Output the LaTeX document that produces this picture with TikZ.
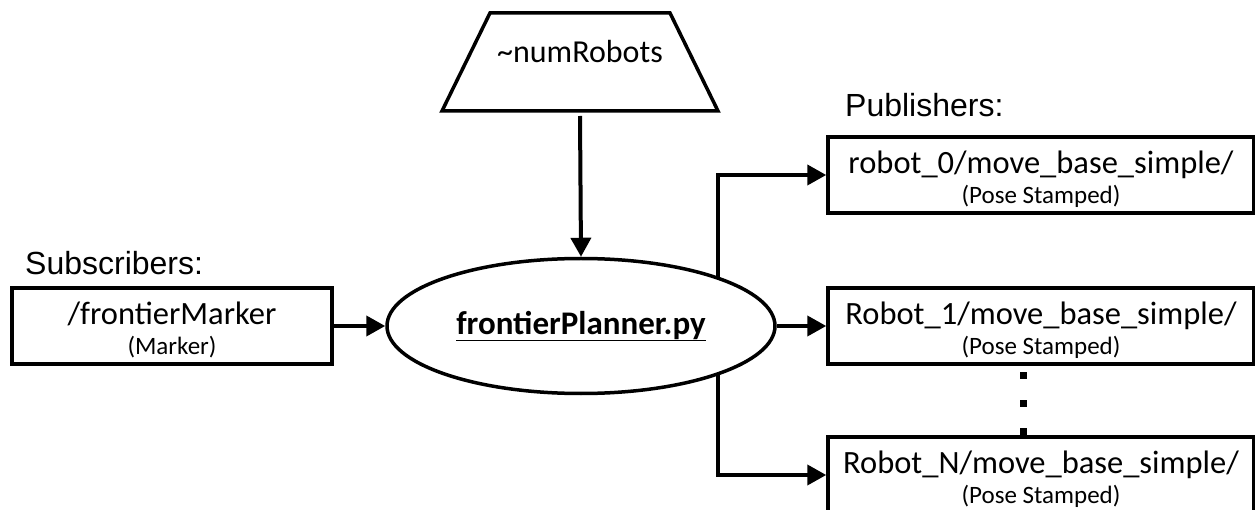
\documentclass[tikz,border=0pt]{standalone}
\usepackage{fontspec}
\setmainfont{Carlito}
\newfontfamily\headfont{Liberation Sans}
\usetikzlibrary{shapes.geometric,arrows.meta}
\tikzset{
  box/.style={draw,line width=3.5pt,fill=white,inner sep=0pt,minimum height=76pt,align=center,font=\fontsize{32.5}{30}\selectfont},
  arr/.style={line width=4pt,-{Triangle[length=19pt,width=20pt]}},
  dotsq/.style={fill=black,inner sep=0pt,minimum size=7pt},
  head/.style={anchor=west,inner sep=0pt,font=\headfont\fontsize{32}{36}\selectfont}
}
\newcommand{\smalltext}[1]{{\fontsize{25}{30}\selectfont #1}}
\newcommand{\tallstrut}{\rule{0pt}{31pt}}
\begin{document}
\begin{tikzpicture}[x=1pt,y=-1pt]
\useasboundingbox (0,0) rectangle (1255,510);
% parameter
\draw[line width=3.5pt,line join=miter] (490,13) -- (670,13) -- (718,111) -- (442,111) -- cycle;
\node[font=\fontsize{32}{34}\selectfont,inner sep=0pt] (param) at (580,52) {\textasciitilde numRobots};
\coordinate (paramout) at (580,116);
% headings
\node[head] (subhead) at (25,263) {Subscribers:};
\node[head] (pubhead) at (845,105) {Publishers:};
% subscriber
\node[box,minimum width=320pt] (sub) at (172,326) {\tallstrut/frontierMarker\\\smalltext{(Marker)}};
% publishers
\node[box,minimum width=426pt] (pub0) at (1041,175) {\tallstrut robot\_0/move\_base\_simple/\\\smalltext{(Pose Stamped)}};
\node[box,minimum width=426pt] (pub1) at (1041,326) {\tallstrut Robot\_1/move\_base\_simple/\\\smalltext{(Pose Stamped)}};
\node[box,minimum width=426pt] (pubN) at (1041,475) {\tallstrut Robot\_N/move\_base\_simple/\\\smalltext{(Pose Stamped)}};
% dots
\node[dotsq] (d1) at (1023,375) {};
\node[dotsq] (d2) at (1023,403) {};
\node[dotsq] (d3) at (1023,431) {};
% spine
\coordinate (sp) at (718,326);
\draw[arr] (sp) |- (pub0.west);
\draw[arr] (sp) |- (pubN.west);
% planner
\node[ellipse,draw,line width=3.5pt,fill=white,minimum width=388pt,minimum height=135pt,inner sep=0pt,
  font=\bfseries\fontsize{33}{36}\selectfont] (ell) at (581,326) {\underline{frontierPlanner.py}};
% connectors
\draw[arr] (paramout) -- (ell.north);
\draw[arr] (sub.east) -- (ell.west);
\draw[arr] (ell.east) -- (pub1.west);
\end{tikzpicture}
\end{document}
